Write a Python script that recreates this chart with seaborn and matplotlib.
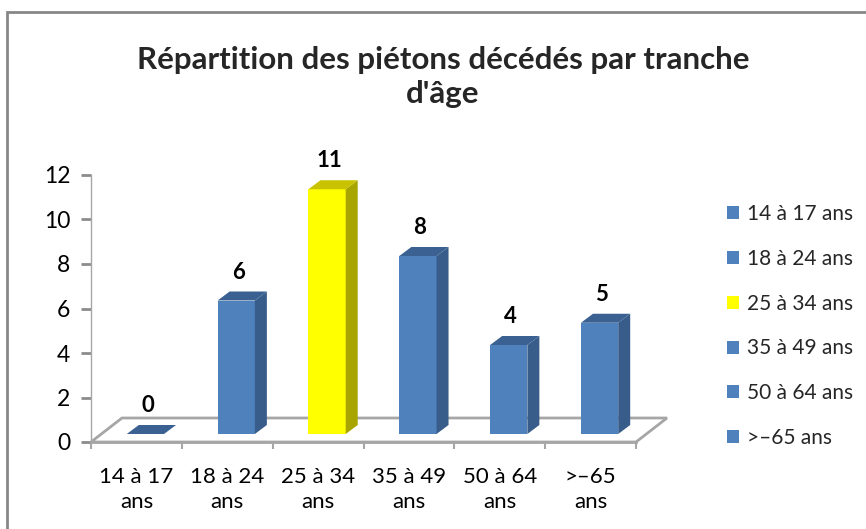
import numpy as np
import matplotlib
matplotlib.use("Agg")
import matplotlib.pyplot as plt
import matplotlib.transforms as mtransforms
from matplotlib.patches import Polygon, Rectangle, Patch
import seaborn as sns

# data
categories = ["14 à 17 ans", "18 à 24 ans", "25 à 34 ans", "35 à 49 ans", "50 à 64 ans", ">–65 ans"]
tick_labels = ["14 à 17\nans", "18 à 24\nans", "25 à 34\nans", "35 à 49\nans", "50 à 64\nans", ">–65\nans"]
deaths = [0, 6, 11, 8, 4, 5]
highlight = "25 à 34 ans"

blue = ("#4F81BD", "#385D8A", "#3B6192")
yellow = ("#FFFF00", "#A8A400", "#C8C200")

sns.set_theme(style="white")
plt.rcParams["font.family"] = ["Lato", "DejaVu Sans"]

W, H = 866, 529
fig = plt.figure(figsize=(W / 100, H / 100), dpi=100)
ax_l, ax_r, ax_b, ax_t = 91, 636, 442, 175
ax = fig.add_axes([ax_l / W, (H - ax_b) / H, (ax_r - ax_l) / W, (ax_b - ax_t) / H])

faces = [yellow if c == highlight else blue for c in categories]
sns.barplot(x=categories, y=deaths, hue=categories, palette=[f[0] for f in faces],
            width=0.41, dodge=False, legend=False, saturation=1, ax=ax, zorder=3)
ax.set_xlim(-0.5, len(categories) - 0.5)
ax.set_ylim(0, 12)

# pixel -> data conversion for the fake 3d look
px_x = (len(categories)) / (ax_r - ax_l)
px_y = 12 / (ax_b - ax_t)
shift = mtransforms.ScaledTranslation(9 / 100, 8 / 100, fig.dpi_scale_trans)
bar_tr = ax.transData + shift

# floor
fdx, fdy = 31 * px_x, 24 * px_y
floor = Polygon([(-0.5, 0), (5.5, 0), (5.5 + fdx, fdy), (-0.5 + fdx, fdy)], closed=True,
                fc="white", ec="#A6A6A6", lw=2, clip_on=False, zorder=1)
ax.add_patch(floor)

# bars: front face from seaborn, side and top faces added
ddx, ddy = 12 * px_x, 9 * px_y
for p, f, v in zip(ax.patches[:len(categories)], faces, deaths):
    p.set_transform(bar_tr)
    p.set_clip_on(False)
    p.set_edgecolor("none")
    x0, w = p.get_x(), p.get_width()
    side = Polygon([(x0 + w, 0), (x0 + w + ddx, ddy), (x0 + w + ddx, v + ddy), (x0 + w, v)],
                   closed=True, fc=f[1], ec="none", transform=bar_tr, clip_on=False, zorder=3)
    top = Polygon([(x0, v), (x0 + w, v), (x0 + w + ddx, v + ddy), (x0 + ddx, v + ddy)],
                  closed=True, fc=f[2], ec="none", transform=bar_tr, clip_on=False, zorder=3)
    ax.add_patch(side)
    ax.add_patch(top)
    ax.text(x0 + w / 2 + 2 * px_x, v + ddy + 0.4, str(v), transform=bar_tr, ha="center",
            va="bottom", fontsize=16, fontweight="bold", color="black", clip_on=False)

# axes styling
for s in ["top", "right"]:
    ax.spines[s].set_visible(False)
ax.spines["left"].set_color("#A6A6A6")
ax.spines["left"].set_linewidth(1)
ax.spines["bottom"].set_color("#A6A6A6")
ax.spines["bottom"].set_linewidth(2)
ax.spines["bottom"].set_zorder(2)
ax.set_yticks(range(0, 13, 2))
ax.tick_params(axis="y", left=True, length=7, width=2, color="#8C8C8C", labelsize=16.5, pad=8,
               labelcolor="black")
ax.set_xticks(range(len(categories)))
ax.set_xticklabels(tick_labels, fontsize=16, linespacing=1.3)
ax.set_xticks(np.arange(-0.5, len(categories), 1), minor=True)
ax.tick_params(axis="x", which="major", bottom=False, pad=12, labelcolor="black")
ax.tick_params(axis="x", which="minor", bottom=True, length=5, width=1.5, color="#A6A6A6")
ax.set_xlabel("")
ax.set_ylabel("")
ax.grid(False)

fig.text(443 / W, (H - 77) / H, "Répartition des piétons décédés par tranche\nd'âge",
         ha="center", va="center", fontsize=22.5, fontweight="bold", linespacing=1.25)

handles = [Patch(fc=f[0], ec="none") for f in faces]
fig.legend(handles, categories, loc="center left", bbox_to_anchor=(727 / W, (H - 326) / H),
           bbox_transform=fig.transFigure, frameon=False, fontsize=15, borderpad=0,
           borderaxespad=0, handlelength=0.58, handleheight=0.58, handletextpad=0.4,
           labelspacing=1.19)

fig.patches.append(Rectangle((7 / W, -0.1), 1.2, (H - 12) / H + 0.1, transform=fig.transFigure,
                             fill=False, ec="#878787", lw=2))

fig.savefig("out.png", dpi=100)
